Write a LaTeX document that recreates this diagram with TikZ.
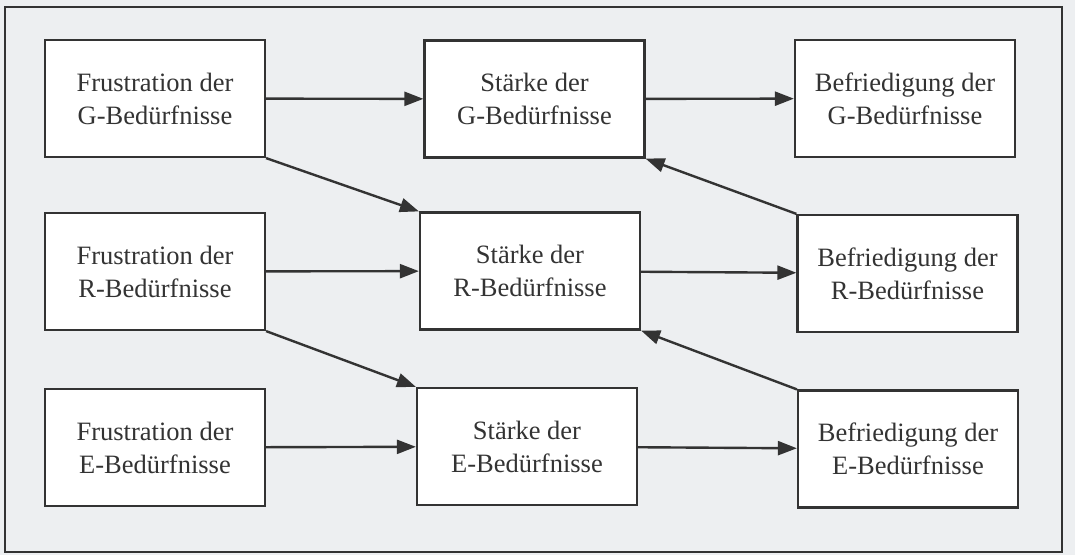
\documentclass[tikz,border=0pt]{standalone}
\usepackage{fontspec}
\setmainfont{Liberation Serif}
\usetikzlibrary{arrows.meta}

\definecolor{paper}{HTML}{EDEFF1}
\definecolor{ink}{HTML}{333333}

\tikzset{
  box/.style={draw=ink,line width=2.2pt,fill=white,minimum width=220pt,minimum height=117pt,
    inner sep=0pt,align=center,text=ink,font=\fontsize{26.5}{33}\selectfont},
  arr/.style={draw=ink,line width=2.4pt,-{Triangle[length=19pt,width=14pt]}}
}

\begin{document}
\begin{tikzpicture}[x=1pt,y=-1pt]
\useasboundingbox (0,0) rectangle (1075,555);
\fill[paper] (0,0) rectangle (1075,555);
\draw[ink,line width=1.8pt] (5,7) rectangle (1062,552);
% linke Spalte
\node[box] (fg) at (155,98.5) {Frustration der\\G-Bedürfnisse};
\node[box] (fr) at (155,271.5) {Frustration der\\R-Bedürfnisse};
\node[box] (fe) at (155,447.5) {Frustration der\\E-Bedürfnisse};
% mittlere Spalte
\node[box] (sg) at (534.5,99) {Stärke der\\G-Bedürfnisse};
\node[box] (sr) at (530,271) {Stärke der\\R-Bedürfnisse};
\node[box] (se) at (527,446.5) {Stärke der\\E-Bedürfnisse};
% rechte Spalte
\node[box] (bg) at (905,98.5) {Befriedigung der\\G-Bedürfnisse};
\node[box] (br) at (907.5,273.5) {Befriedigung der\\R-Bedürfnisse};
\node[box] (be) at (908,449) {Befriedigung der\\E-Bedürfnisse};
% Pfeile
\draw[arr] (fg) -- (sg);
\draw[arr] (fr) -- (sr);
\draw[arr] (fe) -- (se);
\draw[arr] (sg) -- (bg);
\draw[arr] (sr) -- (br);
\draw[arr] (se) -- (be);
\draw[arr] (fg.south east) -- (sr.north west);
\draw[arr] (fr.south east) -- (se.north west);
\draw[arr] (br.north west) -- (sg.south east);
\draw[arr] (be.north west) -- (sr.south east);
\end{tikzpicture}
\end{document}
